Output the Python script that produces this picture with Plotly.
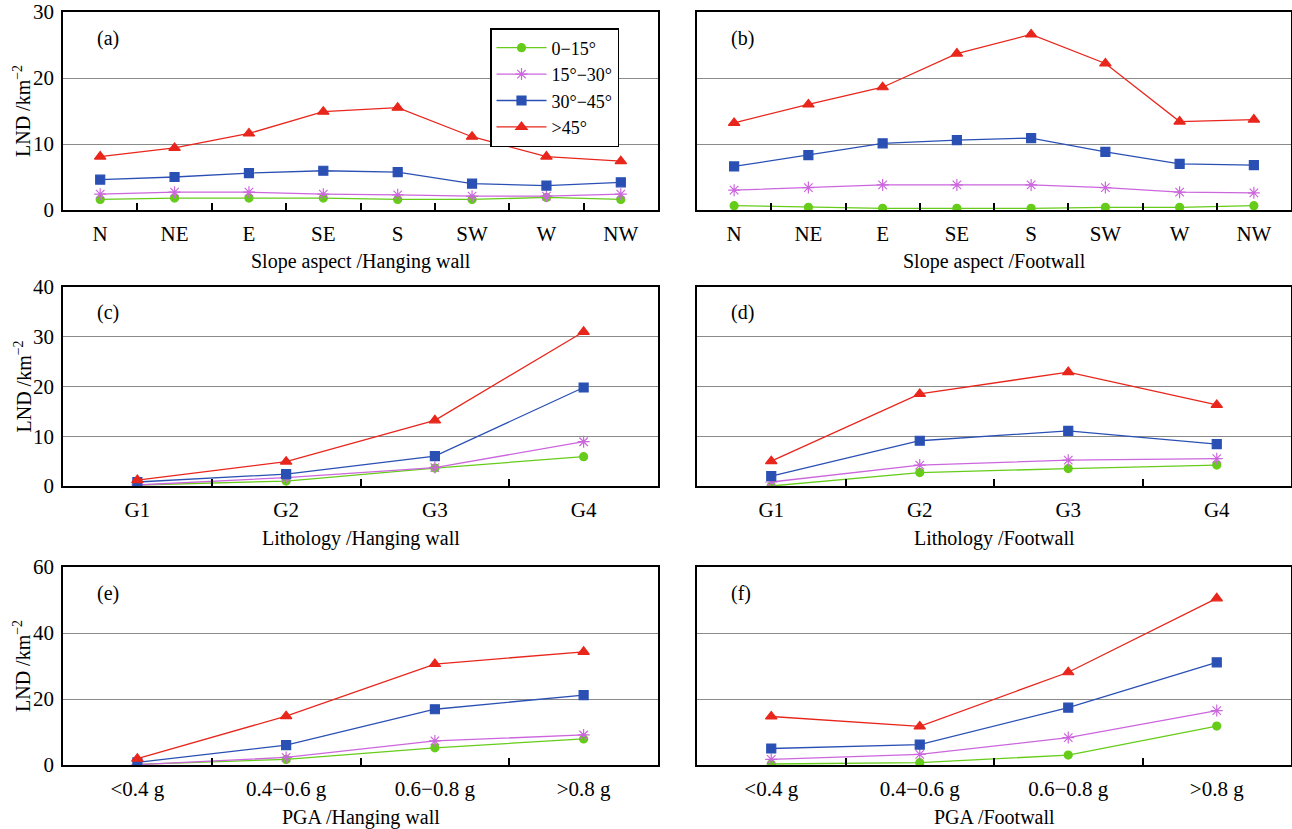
import plotly.graph_objects as go

# ---------------- data ----------------
series_names = ["0\u221215\u00b0", "15\u00b0\u221230\u00b0", "30\u00b0\u221245\u00b0", ">45\u00b0"]
aspect_cats = ["N", "NE", "E", "SE", "S", "SW", "W", "NW"]
litho_cats = ["G1", "G2", "G3", "G4"]
pga_cats = ["<0.4 g", "0.4\u22120.6 g", "0.6\u22120.8 g", ">0.8 g"]

# (a) Slope aspect / Hanging wall
a_0_15 = [1.6, 1.8, 1.8, 1.8, 1.6, 1.6, 1.9, 1.6]
a_15_30 = [2.4, 2.7, 2.7, 2.4, 2.3, 2.1, 2.1, 2.4]
a_30_45 = [4.6, 5.0, 5.6, 5.95, 5.75, 4.0, 3.7, 4.2]
a_gt45 = [8.1, 9.4, 11.6, 14.9, 15.5, 11.1, 8.1, 7.4]

# (b) Slope aspect / Footwall
b_0_15 = [0.66, 0.4, 0.25, 0.25, 0.25, 0.4, 0.4, 0.66]
b_15_30 = [3.0, 3.4, 3.8, 3.8, 3.8, 3.4, 2.7, 2.6]
b_30_45 = [6.6, 8.3, 10.1, 10.6, 10.9, 8.8, 7.0, 6.8]
b_gt45 = [13.2, 16.0, 18.6, 23.7, 26.6, 22.2, 13.4, 13.7]

# (c) Lithology / Hanging wall
c_0_15 = [0.2, 1.0, 3.6, 5.9]
c_15_30 = [0.2, 1.7, 3.7, 8.9]
c_30_45 = [0.8, 2.4, 6.0, 19.8]
c_gt45 = [1.2, 4.9, 13.2, 31.0]

# (d) Lithology / Footwall
d_0_15 = [0.0, 2.7, 3.5, 4.2]
d_15_30 = [0.8, 4.2, 5.2, 5.5]
d_30_45 = [2.0, 9.1, 11.1, 8.4]
d_gt45 = [5.0, 18.5, 22.9, 16.3]

# (e) PGA / Hanging wall
e_0_15 = [0.2, 1.7, 5.2, 7.9]
e_15_30 = [0.1, 2.3, 7.3, 9.1]
e_30_45 = [0.8, 6.0, 16.9, 21.2]
e_gt45 = [1.9, 14.8, 30.6, 34.3]

# (f) PGA / Footwall
f_0_15 = [0.3, 0.7, 3.0, 11.8]
f_15_30 = [1.7, 3.2, 8.3, 16.5]
f_30_45 = [5.0, 6.2, 17.4, 31.1]
f_gt45 = [14.7, 11.7, 28.1, 50.5]

panel_labels = ["(a)", "(b)", "(c)", "(d)", "(e)", "(f)"]
x_titles = ["Slope aspect /Hanging wall", "Slope aspect /Footwall",
            "Lithology /Hanging wall", "Lithology /Footwall",
            "PGA /Hanging wall", "PGA /Footwall"]
y_title = "LND /km<sup>\u22122</sup>"
y_ranges = [30, 30, 40, 40, 60, 60]
y_dticks = [10, 10, 10, 10, 20, 20]

# ---------------- styles ----------------
colors = ["#66cc1a", "#cc66dd", "#2a50b4", "#e8261c"]
symbols = ["circle", "asterisk-open", "square", "triangle-up"]
msizes = [8, 10, 9, 10]
FONT = "Liberation Serif"

W, H = 1292, 829


def fx(px):
    return px / W


def fy(py):
    return 1 - py / H


xdom_left = [fx(63), fx(658)]
xdom_right = [fx(697), fx(1291)]
rows_px = [(12, 210), (287, 486), (567, 765)]

panels = [
    (aspect_cats, [a_0_15, a_15_30, a_30_45, a_gt45]),
    (aspect_cats, [b_0_15, b_15_30, b_30_45, b_gt45]),
    (litho_cats, [c_0_15, c_15_30, c_30_45, c_gt45]),
    (litho_cats, [d_0_15, d_15_30, d_30_45, d_gt45]),
    (pga_cats, [e_0_15, e_15_30, e_30_45, e_gt45]),
    (pga_cats, [f_0_15, f_15_30, f_30_45, f_gt45]),
]

fig = go.Figure()
layout = dict(
    width=W, height=H,
    margin=dict(l=0, r=0, t=0, b=0, autoexpand=False),
    paper_bgcolor="white", plot_bgcolor="white",
    font=dict(family=FONT, size=20, color="black"),
    showlegend=True,
    legend=dict(
        x=fx(490), y=fy(28), xanchor="left", yanchor="top",
        bgcolor="white", bordercolor="black", borderwidth=1.5,
        font=dict(family=FONT, size=18, color="black"),
        tracegroupgap=0, itemwidth=50,
    ),
)
annotations = []

for i, (cats, data) in enumerate(panels):
    n = i + 1
    row = i // 2
    col = i % 2
    xdom = xdom_left if col == 0 else xdom_right
    top_px, bot_px = rows_px[row]
    ydom = [fy(bot_px), fy(top_px)]
    xa = "x" if n == 1 else f"x{n}"
    ya = "y" if n == 1 else f"y{n}"
    for k in range(4):
        fig.add_trace(go.Scatter(
            x=cats, y=data[k], mode="lines+markers",
            name=series_names[k], showlegend=(n == 1),
            line=dict(color=colors[k], width=1.3),
            marker=dict(symbol=symbols[k], size=msizes[k], color=colors[k],
                        line=dict(color=colors[k], width=1.2)),
            xaxis=xa, yaxis=ya,
        ))
    layout[f"xaxis{n}"] = dict(
        domain=xdom, anchor=ya, type="category", automargin=False,
        tickson="boundaries", ticks="inside", ticklen=7, tickwidth=1.5,
        tickcolor="black", showline=True, linecolor="black", linewidth=1.8,
        mirror=True, showgrid=False, zeroline=False,
        tickfont=dict(family=FONT, size=21, color="black"),
        ticklabelstandoff=4,
        range=[-0.5, len(cats) - 0.5],
    )
    layout[f"yaxis{n}"] = dict(
        domain=ydom, anchor=xa, range=[0, y_ranges[i]], dtick=y_dticks[i],
        automargin=False,
        showline=True, linecolor="black", linewidth=1.8, mirror=True,
        showgrid=True, gridcolor="#8a8a8a", gridwidth=1.2, zeroline=False,
        ticks="", showticklabels=(col == 0),
        tickfont=dict(family=FONT, size=21, color="black"),
        ticklabelstandoff=3,
    )
    # panel label
    annotations.append(dict(
        text=panel_labels[i], xref="paper", yref="paper",
        x=xdom[0] + 32 / W, y=fy(top_px + 26),
        xanchor="left", yanchor="middle", showarrow=False,
        font=dict(family=FONT, size=20, color="black"),
    ))
    # x-axis title
    annotations.append(dict(
        text=x_titles[i], xref="paper", yref="paper",
        x=(xdom[0] + xdom[1]) / 2, y=fy(bot_px + 52),
        xanchor="center", yanchor="middle", showarrow=False,
        font=dict(family=FONT, size=20, color="black"),
    ))
    # y-axis title (left panels only)
    if col == 0:
        annotations.append(dict(
            text=y_title, xref="paper", yref="paper",
            x=fx(22), y=fy((top_px + bot_px) / 2),
            xanchor="center", yanchor="middle", showarrow=False,
            textangle=-90,
            font=dict(family=FONT, size=20, color="black"),
        ))

layout["annotations"] = annotations
fig.update_layout(**layout)
fig.write_html(
    "out.html",
    config={"displayModeBar": False},
    post_script="document.body.style.margin='0';document.body.style.overflow='hidden';",
)
